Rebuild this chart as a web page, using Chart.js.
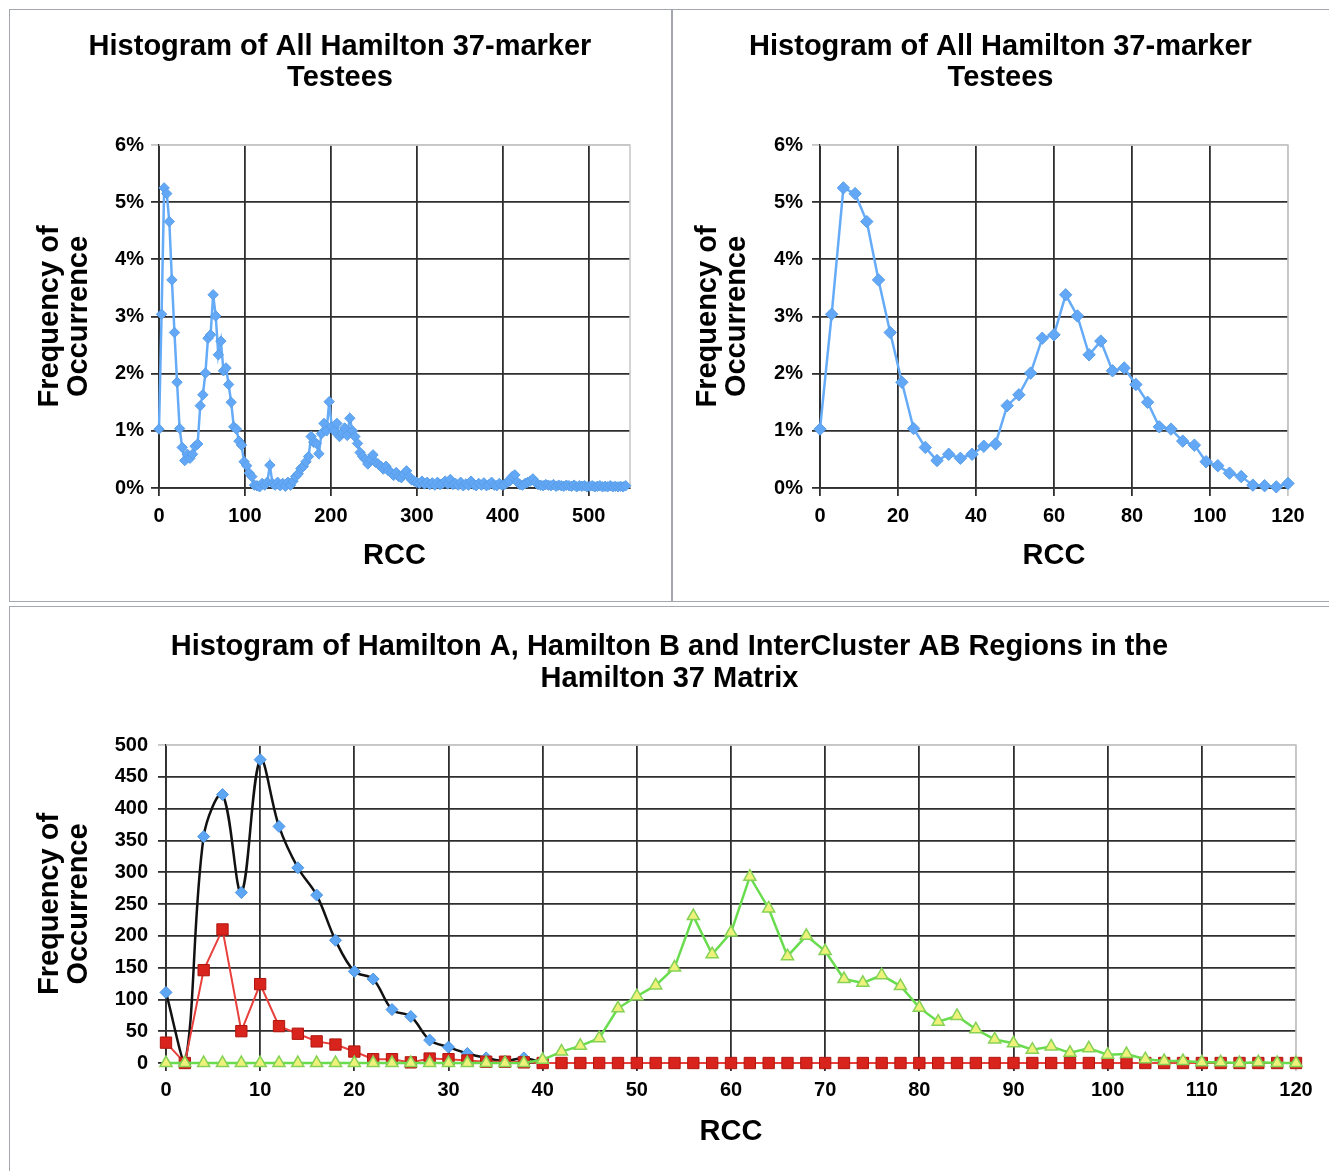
<!DOCTYPE html>
<html>
<head>
<meta charset="utf-8">
<script src="https://cdn.jsdelivr.net/npm/chart.js@4.4.1/dist/chart.umd.min.js"></script>
<style>
  body { margin: 0; background: #fff; width: 1329px; height: 1171px; position: relative; overflow: hidden; }
  .panel { position: absolute; border: 1.5px solid #a4a8ae; box-sizing: border-box; }
  canvas { position: absolute; }
</style>
</head>
<body>
<div class="panel" style="left:9px;top:9px;width:664px;height:593px"></div>
<div class="panel" style="left:671px;top:9px;width:662px;height:593px"></div>
<div class="panel" style="left:9px;top:606px;width:1324px;height:570px"></div>
<canvas id="allHist" width="660" height="590" style="left:10px;top:10px"></canvas>
<canvas id="zoomHist" width="657" height="590" style="left:672px;top:10px"></canvas>
<canvas id="abHist" width="1319" height="564" style="left:10px;top:607px"></canvas>
<script>
// all Hamilton 37-marker testees, % per RCC bin (bins of 3 RCC, starting at 0)
const rccStep = 3;
const allPct = [
  1.03, 3.04, 5.25, 5.15, 4.66, 3.64, 2.72, 1.85, 1.04, 0.71,
  0.48, 0.59, 0.52, 0.59, 0.73, 0.77, 1.44, 1.63, 2.01, 2.62,
  2.68, 3.38, 3.01, 2.33, 2.57, 2.05, 2.10, 1.81, 1.50, 1.07,
  1.03, 0.82, 0.75, 0.46, 0.39, 0.26, 0.20, 0.05, 0.04, 0.02,
  0.08,
  0.05, 0.10, 0.40, 0.08, 0.05, 0.10, 0.04, 0.08, 0.03, 0.10,
  0.05, 0.12, 0.20, 0.25, 0.34, 0.38, 0.46, 0.55, 0.90, 0.80,
  0.78, 0.60, 0.95, 1.13, 1.00, 1.51, 1.07, 1.00, 1.13, 0.90,
  0.96, 1.05, 0.92, 1.22, 1.00, 0.90, 0.78, 0.62, 0.55, 0.50,
  0.42, 0.50, 0.58, 0.45, 0.42, 0.38, 0.33, 0.38, 0.30, 0.27,
  0.22, 0.27, 0.20, 0.18, 0.24, 0.30, 0.20, 0.14, 0.12, 0.10,
  0.08, 0.12, 0.07, 0.10, 0.06, 0.09, 0.05, 0.10, 0.06, 0.08,
  0.12, 0.07, 0.15, 0.06, 0.08, 0.05, 0.10, 0.04, 0.07, 0.05,
  0.12, 0.06, 0.04, 0.08, 0.05, 0.09, 0.04, 0.06, 0.10, 0.05,
  0.04, 0.08, 0.05, 0.06, 0.10, 0.12, 0.20, 0.23, 0.10, 0.06,
  0.05, 0.08, 0.10, 0.12, 0.16, 0.10, 0.06, 0.05, 0.04, 0.06,
  0.05, 0.04, 0.06, 0.03, 0.05, 0.04, 0.03, 0.05, 0.04, 0.03,
  0.05, 0.02, 0.04, 0.03, 0.04, 0.02, 0.03, 0.04, 0.02, 0.03,
  0.04, 0.02, 0.03, 0.02, 0.04, 0.02, 0.03, 0.02, 0.03, 0.02,
  0.04
];

// Hamilton A / B / InterCluster AB counts (bins of 2 RCC)
const abStep = 2;
const hamA = [111, 0, 356, 422, 268, 477, 372, 307, 264, 193, 144, 132, 84, 73, 36, 25, 15, 8, 3, 8, 0];
const hamB = [
  32, 0, 146, 210, 50, 124, 58, 46, 34, 29, 18, 6, 6, 1, 7, 6, 4, 2, 2, 1,
  0, 0, 0, 0, 0, 0, 0, 0, 0, 0, 0, 0, 0, 0, 0, 0, 0, 0, 0, 0,
  0, 0, 0, 0, 0, 0, 0, 0, 0, 0, 0, 0, 0, 0, 0, 0, 0, 0, 0, 0, 0
];
const interAB = [
  0, 0, 0, 0, 0, 0, 0, 0, 0, 0, 0, 0, 0, 0, 0, 0, 0, 0, 0, 0,
  5, 18, 27, 39, 86, 105, 122, 150, 231, 171, 205, 293, 243, 168, 200, 176, 132, 126, 138, 121,
  87, 65, 74, 53, 37, 31, 21, 26, 16, 23, 13, 14, 6, 3, 3, 1, 1, 0, 1, 0, 0
];

Chart.defaults.font.family = '"Liberation Sans", Arial, Helvetica, sans-serif';
Chart.defaults.font.weight = 'bold';
Chart.defaults.color = '#000';

const toPoints = (vals, step) => vals.map((v, i) => ({ x: i * step, y: v }));

const lightLine = '#c6c6c6';
const darkLine = '#2e2e2e';
const gridColor = (c) => (c.tick && c.tick.value === c.scale.max) ? lightLine : darkLine;

// light top / right frame of the plot area
const frame = {
  id: 'frame',
  beforeDatasetsDraw(chart) {
    const { ctx, chartArea: a } = chart;
    ctx.save();
    ctx.strokeStyle = lightLine;
    ctx.lineWidth = 1.5;
    ctx.beginPath();
    ctx.moveTo(a.left, a.top);
    ctx.lineTo(a.right, a.top);
    ctx.lineTo(a.right, a.bottom);
    ctx.stroke();
    ctx.restore();
  }
};

const titleFont = { size: 29, weight: 'bold', lineHeight: 31 / 29 };
const tickFont = { size: 20, weight: 'bold' };

const xAxis = (max, step, height, labelPad, titlePad) => ({
  type: 'linear', min: 0, max: max,
  afterFit: (s) => { s.height = height; },
  ticks: { stepSize: step, includeBounds: false, font: tickFont, padding: labelPad, maxRotation: 0 },
  grid: { color: gridColor, lineWidth: 1.8, tickLength: 8 },
  border: { color: darkLine, width: 1.8 },
  title: { display: true, text: 'RCC', font: titleFont, padding: { top: 0, bottom: titlePad } }
});

const yAxis = (max, step, width, labelPad, titleShift, fmt) => ({
  min: 0, max: max,
  afterFit: (s) => { s.width = width; },
  ticks: { stepSize: step, font: tickFont, padding: labelPad, callback: fmt },
  grid: { color: gridColor, lineWidth: 1.8, tickLength: 8 },
  border: { color: darkLine, width: 1.8 },
  title: { display: true, text: ['Frequency of', 'Occurrence'], font: { size: 29, weight: 'bold', lineHeight: 1 }, padding: { top: titleShift, bottom: 0 } }
});

const topTitle = (text, padTop, padBottom, lh) => ({
  display: true, text: text, color: '#000',
  font: { size: 29, weight: 'bold', lineHeight: lh / 29 },
  padding: { top: padTop, bottom: padBottom }
});

const blueLine = (data, radius) => ({
  data: data,
  borderColor: '#66abf7',
  backgroundColor: '#62a8f6',
  borderWidth: 2.5,
  pointStyle: 'rectRot',
  pointRadius: radius,
  pointBorderColor: '#5a9ee8',
  pointBorderWidth: 1,
  tension: 0,
  clip: false
});

// top left: full range
new Chart(document.getElementById('allHist'), {
  type: 'line',
  data: { datasets: [blueLine(toPoints(allPct, rccStep), 5.2)] },
  options: {
    responsive: false, animation: false,
    layout: { padding: { left: 40, right: 40, top: 0, bottom: 0 } },
    plugins: {
      legend: { display: false }, tooltip: { enabled: false },
      title: topTitle(['Histogram of All Hamilton 37-marker', 'Testees'], 21.5, 51.5, 31)
    },
    scales: {
      x: xAxis(548, 100, 112, 8, 28.5),
      y: yAxis(6, 1, 109, 7, -14.5, v => v + '%')
    }
  },
  plugins: [frame]
});

// top right: RCC 0..120
new Chart(document.getElementById('zoomHist'), {
  type: 'line',
  data: { datasets: [blueLine(toPoints(allPct, rccStep).filter(p => p.x <= 120), 6.2)] },
  options: {
    responsive: false, animation: false,
    layout: { padding: { left: 41, right: 41, top: 0, bottom: 0 } },
    plugins: {
      legend: { display: false }, tooltip: { enabled: false },
      title: topTitle(['Histogram of All Hamilton 37-marker', 'Testees'], 21.5, 51.5, 31)
    },
    scales: {
      x: xAxis(120, 20, 112, 8, 28.5),
      y: yAxis(6, 1, 107, 9, -19.5, v => v + '%')
    }
  },
  plugins: [frame]
});

// bottom: Hamilton A, Hamilton B, InterCluster AB
new Chart(document.getElementById('abHist'), {
  type: 'line',
  data: {
    datasets: [
      {
        label: 'InterCluster AB', data: toPoints(interAB, abStep), order: 0,
        borderColor: '#69dc4e', borderWidth: 2.5, tension: 0,
        pointStyle: 'triangle', pointRadius: 7, pointBackgroundColor: '#eef27a',
        pointBorderColor: '#86d257', pointBorderWidth: 1.5, clip: false
      },
      {
        label: 'Hamilton B', data: toPoints(hamB, abStep), order: 1,
        borderColor: '#e8403c', borderWidth: 2, tension: 0,
        pointStyle: 'rect', pointRadius: 8, pointBackgroundColor: '#d8241c',
        pointBorderColor: '#b0160f', pointBorderWidth: 1, clip: false
      },
      {
        label: 'Hamilton A', data: toPoints(hamA, abStep), order: 2,
        borderColor: '#111', borderWidth: 2.5, tension: 0.35,
        pointStyle: 'rectRot', pointRadius: 6, pointBackgroundColor: '#5ca6f4',
        pointBorderColor: '#4b92e0', pointBorderWidth: 1, clip: false
      }
    ]
  },
  options: {
    responsive: false, animation: false,
    layout: { padding: { left: 33, right: 33, top: 0, bottom: 0 } },
    plugins: {
      legend: { display: false }, tooltip: { enabled: false },
      title: topTitle(['Histogram of Hamilton A, Hamilton B and InterCluster AB Regions in the', 'Hamilton 37 Matrix'], 24, 50, 32)
    },
    scales: {
      x: xAxis(120, 10, 108, 7, 23.5),
      y: yAxis(500, 50, 123, 10, -7.5, v => v)
    }
  },
  plugins: [frame]
});
</script>
</body>
</html>
